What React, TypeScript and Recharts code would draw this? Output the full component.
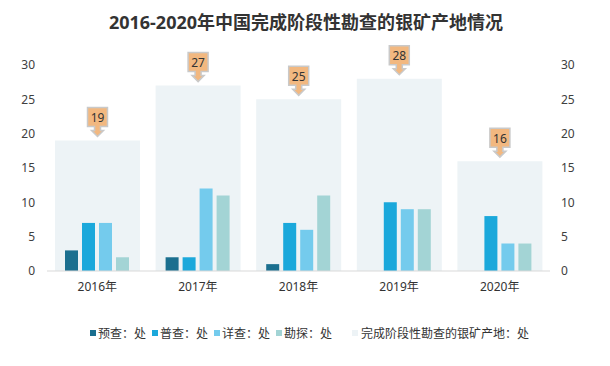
import React from 'react';
import { ComposedChart, Bar, XAxis, YAxis, LabelList } from 'recharts';

const years = ['2016年', '2017年', '2018年', '2019年', '2020年'];
const prelim = [3, 2, 1, 0, 0];
const general = [7, 2, 7, 10, 8];
const detailed = [7, 12, 6, 9, 4];
const exploration = [2, 11, 11, 9, 4];
const totals = [19, 27, 25, 28, 16];
const yTicks = [0, 5, 10, 15, 20, 25, 30];

const series = [
  { key: 'prelim', name: '预查：处', color: '#1b6f8f' },
  { key: 'general', name: '普查：处', color: '#1ba8db' },
  { key: 'detailed', name: '详查：处', color: '#74cbed' },
  { key: 'exploration', name: '勘探：处', color: '#a3d4d5' },
];
const totalName = '完成阶段性勘查的银矿产地：处';
const totalColor = '#edf3f6';

const data = years.map((year, i) => ({
  year,
  prelim: prelim[i],
  general: general[i],
  detailed: detailed[i],
  exploration: exploration[i],
  total: totals[i],
}));

const FONT = '"Noto Sans", "Noto Sans CJK SC", sans-serif';

const Callout = (props: any) => {
  const { x, y, width, value } = props;
  const cx = x + width / 2;
  const top = y - 33;
  return (
    <g>
      <path
        d={`M${cx - 10},${top} H${cx + 10} V${top + 19} H${cx + 3} V${top + 23} H${cx + 6} L${cx},${top + 29} L${cx - 6},${top + 23} H${cx - 3} V${top + 19} H${cx - 10} Z`}
        fill="#f2b880"
        stroke="#c9c9c9"
        strokeWidth={1.5}
      />
      <text x={cx} y={top + 10} textAnchor="middle" dominantBaseline="central" fontSize={12} fill="#333" fontFamily={FONT}>
        {value}
      </text>
    </g>
  );
};

export default function App() {
  return (
    <div style={{ position: 'relative', width: 610, height: 366, fontFamily: FONT, margin: -8, background: '#fff' }}>
      <div style={{ position: 'absolute', left: 2, top: 0, width: 604, height: 362, border: '1px solid #bfbfbf' }} />
      <div style={{ position: 'absolute', left: 0, top: 8, width: 612, textAlign: 'center', fontSize: 18, fontWeight: 'bold', color: '#333' }}>
        2016-2020年中国完成阶段性勘查的银矿产地情况
      </div>
      <ComposedChart
        width={610}
        height={366}
        data={data}
        margin={{ top: 65, right: 0, bottom: 65, left: 0 }}
        barGap={4}
        style={{ position: 'absolute', left: 0, top: 0 }}
      >
        <XAxis xAxisId="bg" dataKey="year" hide height={0} />
        <XAxis
          xAxisId="main"
          dataKey="year"
          height={30}
          tickLine={false}
          axisLine={{ stroke: '#d9d9d9' }}
          tickMargin={5}
          tick={{ fill: '#333', fontSize: 12, fontFamily: FONT }}
        />
        <YAxis
          yAxisId="left"
          width={47}
          domain={[0, 30]}
          ticks={yTicks}
          axisLine={false}
          tickLine={false}
          tickMargin={6}
          tick={{ fill: '#404040', fontSize: 12, fontFamily: FONT }}
        />
        <YAxis
          yAxisId="right"
          orientation="right"
          width={60}
          domain={[0, 30]}
          ticks={yTicks}
          axisLine={false}
          tickLine={false}
          tickMargin={5}
          tick={{ fill: '#404040', fontSize: 12, fontFamily: FONT, textAnchor: 'start' }}
        />
        <Bar
          xAxisId="bg"
          yAxisId="right"
          dataKey="total"
          name={totalName}
          fill={totalColor}
          barSize={85}
          isAnimationActive={false}
        >
          <LabelList dataKey="total" content={<Callout />} />
        </Bar>
        {series.map((s) => (
          <Bar
            key={s.key}
            xAxisId="main"
            yAxisId="left"
            dataKey={s.key}
            name={s.name}
            fill={s.color}
            barSize={13}
            isAnimationActive={false}
          />
        ))}
      </ComposedChart>
      <div
        style={{
          position: 'absolute',
          left: 90,
          top: 324,
          display: 'flex',
          alignItems: 'center',
          fontSize: 12,
          color: '#333',
          whiteSpace: 'nowrap',
        }}
      >
        {series.map((s) => (
          <div key={s.key} style={{ display: 'flex', alignItems: 'center', marginRight: 6 }}>
            <span style={{ width: 6, height: 6, background: s.color, marginRight: 2 }} />
            <span>{s.name}</span>
          </div>
        ))}
        <div style={{ display: 'flex', alignItems: 'center', marginLeft: 14 }}>
          <span style={{ width: 6, height: 6, background: totalColor, marginRight: 3 }} />
          <span>{totalName}</span>
        </div>
      </div>
    </div>
  );
}
